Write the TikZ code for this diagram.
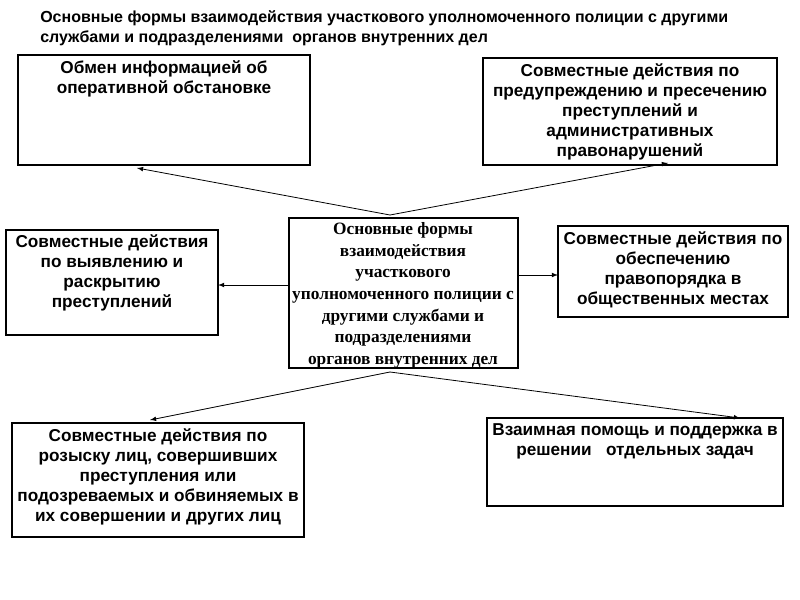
\documentclass[tikz,border=0pt]{standalone}
\usepackage{fontspec}
\setmainfont{Liberation Sans}
\newfontfamily\serifb{Liberation Serif}
\begin{document}
\begin{tikzpicture}[x=0.75pt,y=-0.75pt,
  box/.style={draw,line width=0.8pt},
  txt/.style={align=center,font=\bfseries\fontsize{12.9}{15}\selectfont,anchor=north,inner sep=0pt},
  arr/.style={-latex,line width=0.6pt}]
\useasboundingbox (0,0) rectangle (800,600);
\node[anchor=north west,align=left,font=\bfseries\fontsize{12}{15.5}\selectfont,inner sep=0pt] (title) at (40,10)
 {Основные формы взаимодействия участкового уполномоченного полиции с другими\\службами и подразделениями \ органов внутренних дел};
\draw[box] (18,55) rectangle (310,165);
\node[txt] (tl) at (164,60) {Обмен информацией об\\оперативной обстановке};
\draw[box] (483,58) rectangle (777,165);
\node[txt] (tr) at (630,63) {Совместные действия по\\предупреждению и пресечению\\преступлений и\\административных\\правонарушений};
\draw[box] (289,218) rectangle (518,368);
\node[txt,font=\serifb\bfseries\fontsize{13}{16.3}\selectfont] (c) at (403,222) {Основные формы\\взаимодействия\\участкового\\уполномоченного полиции с\\другими службами и\\подразделениями\\органов внутренних дел};
\draw[box] (6,230) rectangle (218,335);
\node[txt] (l) at (112,234) {Совместные действия\\по выявлению и\\раскрытию\\преступлений};
\draw[box] (558,226) rectangle (788,317);
\node[txt] (r) at (673,231) {Совместные действия по\\обеспечению\\правопорядка в\\общественных местах};
\draw[box] (12,423) rectangle (304,537);
\node[txt] (bl) at (158,428) {Совместные действия по\\розыску лиц, совершивших\\преступления или\\подозреваемых и обвиняемых в\\их совершении и других лиц};
\draw[box] (487,418) rectangle (783,506);
\node[txt] (br) at (635,423) {Взаимная помощь и поддержка в\\решении \ \ отдельных задач};
\coordinate (ct) at (390,215);
\coordinate (cb) at (390,372);
\coordinate (a1) at (137,168);
\coordinate (a2) at (668,163);
\draw[arr] (ct) -- (a1);
\draw[arr] (ct) -- (a2);
\draw[arr] (289,285) -- (218,285);
\draw[arr] (518,275) -- (558,275);
\draw[arr] (cb) -- (150,420);
\draw[arr] (cb) -- (740,418);
\end{tikzpicture}
\end{document}
